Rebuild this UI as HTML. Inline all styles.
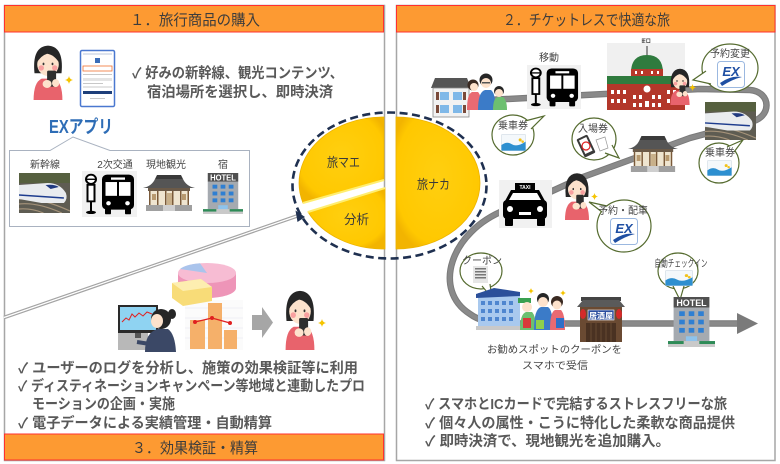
<!DOCTYPE html>
<html><head><meta charset="utf-8"><style>
html,body{margin:0;padding:0;background:#fff;width:780px;height:464px;overflow:hidden}
svg{display:block}
text{font-family:"Liberation Sans","Noto Sans CJK JP",sans-serif}
.b{font-weight:bold;fill:#595959;font-size:14.5px}
.h{fill:#3c3c3c;font-size:15px}
.s{fill:#454545;font-size:10px}
.p{fill:#3a3a3a;font-size:13px}
</style></head><body>
<svg width="780" height="464" viewBox="0 0 780 464" xmlns="http://www.w3.org/2000/svg">
<defs>
<symbol id="girl" viewBox="0 0 40 64" preserveAspectRatio="none">
 <path d="M5 34 Q2 4 20 3 Q38 4 35 34 Z" fill="#262626"/>
 <path d="M4 64 Q4 44 13 40 L27 40 Q36 44 36 64 Z" fill="#e8636c"/>
 <ellipse cx="20" cy="24" rx="12" ry="13" fill="#fde2cc"/>
 <path d="M7 23 Q7 7 20 7 Q33 7 33 23 Q27 13 19 12 Q12 14 7 23 Z" fill="#262626"/>
 <circle cx="12.5" cy="28" r="3" fill="#f8a0a0"/>
 <circle cx="27.5" cy="28" r="3" fill="#f8a0a0"/>
 <rect x="14" y="22" width="2" height="3" rx="1" fill="#333"/>
 <rect x="24" y="22" width="2" height="3" rx="1" fill="#333"/>
 <rect x="19" y="31" width="10" height="18" rx="1.5" fill="#2f2f2f"/>
 <ellipse cx="19" cy="46" rx="5" ry="4.5" fill="#fde2cc"/>
 <ellipse cx="28.5" cy="45" rx="4" ry="4.5" fill="#fde2cc"/>
</symbol>
<symbol id="spark" viewBox="-4 -4 8 8">
 <path d="M0 -4 Q0.6 -0.6 4 0 Q0.6 0.6 0 4 Q-0.6 0.6 -4 0 Q-0.6 -0.6 0 -4Z" fill="#f5c400"/>
</symbol>
<symbol id="bus" viewBox="0 0 55 50" preserveAspectRatio="none">
 <rect width="55" height="50" fill="#f1f1f1"/>
 <circle cx="9" cy="9" r="5" fill="#fff" stroke="#000" stroke-width="2"/>
 <line x1="4" y1="9" x2="14" y2="9" stroke="#000" stroke-width="1.5"/>
 <rect x="5.5" y="15" width="7" height="18" fill="#fff" stroke="#000" stroke-width="2"/>
 <rect x="8" y="33" width="2" height="11" fill="#000"/>
 <ellipse cx="9" cy="45" rx="5" ry="1.8" fill="#000"/>
 <rect x="20" y="4" width="32" height="38" rx="5" fill="#000"/>
 <rect x="29" y="7" width="14" height="2.5" fill="#fff"/>
 <rect x="23.5" y="12" width="11.5" height="15" fill="#fff"/>
 <rect x="37" y="12" width="11.5" height="15" fill="#fff"/>
 <circle cx="26.5" cy="35" r="2.3" fill="#fff"/>
 <circle cx="45.5" cy="35" r="2.3" fill="#fff"/>
 <rect x="23" y="41" width="6" height="6" rx="1" fill="#000"/>
 <rect x="43" y="41" width="6" height="6" rx="1" fill="#000"/>
</symbol>
<symbol id="temple" viewBox="0 0 52 36" preserveAspectRatio="none">
 <path d="M14 0 H38 L40 4 H12 Z" fill="#3a3a3a"/>
 <path d="M12 4 H40 Q43 11 52 13 H0 Q9 11 12 4 Z" fill="#555"/>
 <rect x="5" y="13" width="42" height="3" fill="#6b5a48"/>
 <rect x="6" y="16" width="40" height="14" fill="#efe5d0"/>
 <g fill="#7a5a3a"><rect x="6" y="16" width="1.5" height="14"/><rect x="14" y="16" width="1.5" height="14"/><rect x="22" y="16" width="1.5" height="14"/><rect x="29" y="16" width="1.5" height="14"/><rect x="37" y="16" width="1.5" height="14"/><rect x="44.5" y="16" width="1.5" height="14"/></g>
 <rect x="9" y="19" width="4" height="6" fill="#b89a70"/>
 <rect x="39" y="19" width="4" height="6" fill="#b89a70"/>
 <rect x="24" y="18" width="5" height="12" fill="#c8b08a"/>
 <rect x="3" y="30" width="46" height="6" fill="#a0a0a0"/>
 <rect x="20" y="30" width="12" height="6" fill="#cfcfcf"/>
</symbol>
<symbol id="hotel" viewBox="0 0 42 42" preserveAspectRatio="none">
 <rect x="5" y="0" width="32" height="9" fill="#505050"/>
 <text x="21" y="7.6" text-anchor="middle" font-size="8" font-weight="bold" fill="#fff">HOTEL</text>
 <rect x="5" y="9" width="32" height="29" fill="#a5aab0"/>
 <g fill="#2f7fd2">
  <rect x="10" y="12" width="5" height="4"/><rect x="18.5" y="12" width="5" height="4"/><rect x="27" y="12" width="5" height="4"/>
  <rect x="10" y="19" width="5" height="4"/><rect x="18.5" y="19" width="5" height="4"/><rect x="27" y="19" width="5" height="4"/>
  <rect x="10" y="26" width="5" height="4"/><rect x="18.5" y="26" width="5" height="4"/><rect x="27" y="26" width="5" height="4"/>
 </g>
 <rect x="16" y="33" width="10" height="5" fill="#8ec3ec"/>
 <rect x="0" y="37" width="42" height="5" fill="#c9c9c9"/>
 <rect x="0" y="37" width="14" height="2.5" fill="#2e8b57"/>
 <rect x="28" y="37" width="14" height="2.5" fill="#2e8b57"/>
</symbol>
<symbol id="train" viewBox="0 0 50 40" preserveAspectRatio="none">
 <rect width="50" height="40" fill="#5e5c52"/>
 <rect width="50" height="10" fill="#56603f"/>
 <path d="M0 26 Q20 24 50 38 M0 31 Q18 29 42 40 M0 36 Q12 35 24 40" stroke="#a5937a" stroke-width="1.2" fill="none"/>
 <path d="M0 12 L28 10 Q40 10 46 20 Q48 26 44 30 L22 30 L0 26 Z" fill="#e9ecef"/>
 <path d="M26 12 Q35 11 39 14 L31 16 Z" fill="#203a80"/>
 <path d="M0 22 L44 25" stroke="#1d3c8e" stroke-width="1.5"/>
</symbol>
<symbol id="ex" viewBox="0 0 28 27" preserveAspectRatio="none">
 <rect x="0.5" y="0.5" width="27" height="26" rx="3" fill="#fff" stroke="#9bb8e0"/>
 <text x="14" y="15" text-anchor="middle" font-size="13" font-weight="bold" font-style="italic" fill="#1f4fa3">EX</text>
 <path d="M3 22 Q14 14 25 16 Q16 18 5 25 Z" fill="#1f4fa3"/>
</symbol>
<symbol id="card" viewBox="0 0 30 20" preserveAspectRatio="none">
 <rect x="0.5" y="0.5" width="29" height="19" rx="1" fill="#f4f8fb" stroke="#c8d4de" stroke-width="0.6"/>
 <path d="M0.5 13 Q7 8 13 12 T29.5 9 V19.5 H0.5Z" fill="#2d8fd0"/>
 <circle cx="23" cy="7" r="1.8" fill="#f2c21a"/><circle cx="26" cy="9" r="1.5" fill="#f2c21a"/>
</symbol>
<radialGradient id="pie" cx="0.5" cy="0.45" r="0.6">
 <stop offset="0" stop-color="#FFCF10"/><stop offset="0.85" stop-color="#FFC800"/><stop offset="1" stop-color="#F2B400"/>
</radialGradient>
</defs>

<!-- panels -->
<rect x="4.5" y="5.5" width="380" height="455" fill="#fff" stroke="#a6a6a6" stroke-width="1.5"/>
<rect x="396.5" y="5.5" width="378.5" height="455" fill="#fff" stroke="#a6a6a6" stroke-width="1.5"/>
<rect x="4.5" y="5.5" width="379" height="26.5" fill="#FD9A32" stroke="#FF3030" stroke-width="1"/>
<rect x="396.5" y="5.5" width="378.5" height="26.5" fill="#FD9A32" stroke="#FF3030" stroke-width="1"/>
<rect x="4.5" y="434" width="379" height="26" fill="#FD9A32" stroke="#FF3030" stroke-width="1"/>
<text class="h" x="130" y="25" textLength="130" lengthAdjust="spacingAndGlyphs">１．旅行商品の購入</text>
<text class="h" x="503" y="25" textLength="167" lengthAdjust="spacingAndGlyphs">２．チケットレスで快適な旅</text>
<text class="h" x="132" y="453" textLength="126" lengthAdjust="spacingAndGlyphs">３．効果検証・精算</text>

<!-- diagonal double line -->
<line x1="4" y1="317.5" x2="297" y2="216" stroke="#a4a4a4" stroke-width="3.6"/>
<line x1="4" y1="317.5" x2="297" y2="216" stroke="#fff" stroke-width="1.2"/>

<!-- LEFT TOP -->
<use href="#girl" x="30" y="43" width="36" height="57"/>
<use href="#spark" x="65" y="76" width="8" height="8"/>
<g transform="translate(80,50)">
 <rect x="0.5" y="0.5" width="34" height="56" rx="1.5" fill="#fff" stroke="#4a78d0" stroke-width="1.5"/>
 <rect x="3" y="3" width="29" height="2" fill="#dde3ee"/>
 <rect x="15" y="8" width="5" height="5" fill="#3a6db8"/>
 <rect x="3" y="16" width="29" height="5" fill="none" stroke="#f07030" stroke-width="0.8"/>
 <rect x="3" y="24" width="29" height="1" fill="#c8c8c8"/>
 <rect x="3" y="28" width="29" height="3" fill="#e4e4e4"/>
 <rect x="3" y="33" width="20" height="1" fill="#c8c8c8"/>
 <rect x="3" y="36" width="29" height="2" fill="#e4e4e4"/>
 <rect x="3" y="41" width="29" height="3" fill="#1e3f7a"/>
 <rect x="10" y="48" width="15" height="1" fill="#c8c8c8"/>
</g>
<text class="b" x="132" y="78" textLength="211" lengthAdjust="spacingAndGlyphs">✓ 好みの新幹線、観光コンテンツ、</text>
<text class="b" x="147" y="97" textLength="186" lengthAdjust="spacingAndGlyphs">宿泊場所を選択し、即時決済</text>
<text x="49" y="133" font-size="18" font-weight="bold" fill="#2e6db6" textLength="64" lengthAdjust="spacingAndGlyphs">EXアプリ</text>
<path d="M9.5 150.5 H50 L73 137 L110 150.5 H249.5 V226.5 H9.5 Z" fill="#fff" stroke="#a9b2c0" stroke-width="1"/>
<text class="s" x="45" y="168" text-anchor="middle">新幹線</text>
<text class="s" x="115" y="168" text-anchor="middle">2次交通</text>
<text class="s" x="166" y="168" text-anchor="middle">現地観光</text>
<text class="s" x="223" y="168" text-anchor="middle">宿</text>
<use href="#train" x="19" y="173" width="51" height="40"/>
<use href="#bus" x="82" y="171" width="55" height="46"/>
<use href="#temple" x="143" y="175" width="52" height="36"/>
<use href="#hotel" x="203" y="173" width="40" height="41"/>

<!-- PIE -->
<path d="M384 180 L303 203 A84 66 0 0 1 384 117 Z" fill="url(#pie)" stroke="#EDB300" stroke-width="0.8"/>
<path d="M303 203 L384 180" stroke="#FFEE70" stroke-width="2"/>
<path d="M385 188 L308 212 A84 66 0 0 0 385 249 Z" fill="url(#pie)" stroke="#EDB300" stroke-width="0.8"/>
<path d="M308 212 L385 188" stroke="#FFEE70" stroke-width="2"/>
<path d="M396 117 A84 66 0 0 1 396 249 Z" fill="url(#pie)" stroke="#EDB300" stroke-width="0.8"/>
<ellipse cx="389.5" cy="185.5" rx="97" ry="73" fill="none" stroke="#1f3050" stroke-width="2.6" stroke-dasharray="8 4.5"/>
<polygon points="295.5,210.5 297.5,222 305,217" fill="#1f3050"/>
<text class="p" x="327" y="167" textLength="33" lengthAdjust="spacingAndGlyphs">旅マエ</text>
<text class="p" x="344" y="224" textLength="25" lengthAdjust="spacingAndGlyphs">分析</text>
<text class="p" x="417" y="189" textLength="33" lengthAdjust="spacingAndGlyphs">旅ナカ</text>

<!-- LEFT BOTTOM -->
<g>
 <rect x="118" y="333" width="30" height="17" fill="#b8b8b8"/>
 <rect x="118" y="305" width="40" height="28" fill="#2a2a2a"/>
 <rect x="120" y="307" width="36" height="23" fill="#8fd3f2"/>
 <path d="M122 322 L126 318 L129 320 L132 314 L135 317 L139 313 L143 316 L147 312 L152 314" stroke="#e02020" stroke-width="1" fill="none"/>
 <rect x="135" y="333" width="6" height="5" fill="#555"/>
 <path d="M145 352 Q145 332 158 329 L168 329 Q175 334 176 352 Z" fill="#3b4866"/>
 <ellipse cx="161" cy="319" rx="10" ry="10" fill="#262626"/>
 <ellipse cx="172" cy="314" rx="4" ry="5" fill="#262626"/>
 <ellipse cx="157" cy="321" rx="6" ry="7" fill="#fde2cc"/>
 <path d="M150 344 L137 342" stroke="#3b4866" stroke-width="4"/>
</g>
<g>
 <rect x="185" y="300" width="58" height="50" fill="#fbfbfb"/>
 <g stroke="#e4e4ee" stroke-width="0.6"><line x1="185" y1="308" x2="243" y2="308"/><line x1="185" y1="318" x2="243" y2="318"/><line x1="185" y1="328" x2="243" y2="328"/><line x1="185" y1="338" x2="243" y2="338"/></g>
 <rect x="190" y="320" width="15" height="29" fill="#f5b06a"/>
 <rect x="208" y="303" width="14" height="46" fill="#f5b06a"/>
 <rect x="224" y="330" width="13" height="19" fill="#f5b06a"/>
 <polyline points="195,322 212,318 230,323" stroke="#e02020" stroke-width="1.2" fill="none"/>
 <circle cx="195" cy="322" r="2" fill="#e02020"/><circle cx="212" cy="318" r="2" fill="#e02020"/><circle cx="230" cy="323" r="2" fill="#e02020"/>
 <!-- 3D pie -->
 <path d="M178 273 V288 A29 10 0 0 0 236 288 V273 Z" fill="#ee95b8"/>
 <ellipse cx="207" cy="273" rx="29" ry="10" fill="#f7bcd3"/>
 <path d="M207 273 L180 269 A29 10 0 0 1 200 263.3 Z" fill="#aac4ec"/>
 <path d="M172 283 L201 279 L212 287 L212 301 L183 306 L172 298 Z" fill="#f8dc78"/>
 <path d="M172 283 L201 279 L212 287 L183 291 Z" fill="#fdeeb0"/>
</g>
<polygon points="252,315 262,315 262,307 273,322.5 262,338 262,330 252,330" fill="#a6a6a6"/>
<use href="#girl" x="282" y="288" width="36" height="62"/>
<use href="#spark" x="318" y="319" width="8" height="8"/>
<text class="b" x="18" y="373" textLength="340" lengthAdjust="spacingAndGlyphs">✓ ユーザーのログを分析し、施策の効果検証等に利用</text>
<text class="b" x="18" y="391" textLength="347" lengthAdjust="spacingAndGlyphs">✓ ディスティネーションキャンペーン等地域と連動したプロ</text>
<text class="b" x="32" y="409" textLength="143" lengthAdjust="spacingAndGlyphs">モーションの企画・実施</text>
<text class="b" x="18" y="428" textLength="254" lengthAdjust="spacingAndGlyphs">✓ 電子データによる実績管理・自動精算</text>

<!-- RIGHT: road -->
<path d="M488 100 L700 89 L750 90 C772 92 772 118 750 122 L690 138 L583 177 L550 192 L505 210 C450 232 432 290 470 314 Q482 323 505 323.5 L740 323.5" fill="none" stroke="#7a7a7a" stroke-width="6.5" stroke-linejoin="round"/>
<path d="M488 100 L700 89 L750 90 C772 92 772 118 750 122 L690 138 L583 177 L550 192 L505 210 C450 232 432 290 470 314 Q482 323 505 323.5 L740 323.5" fill="none" stroke="#8a8a8a" stroke-width="4.5" stroke-linejoin="round"/>
<polygon points="737,313 758,323.5 737,334" fill="#7a7a7a"/>

<!-- house & family -->
<polygon points="435,78 467,78 471,88 431,88" fill="#555"/>
<rect x="433" y="88" width="36" height="29" fill="#f2f2f2" stroke="#8a8a8a" stroke-width="0.8"/>
<g fill="#7fb8e8"><rect x="440" y="92" width="9" height="8"/><rect x="453" y="92" width="9" height="8"/><rect x="440" y="105" width="9" height="8"/><rect x="453" y="105" width="9" height="8"/></g>
<g fill="#7a4a3a"><rect x="436" y="92" width="3" height="8"/><rect x="463" y="92" width="3" height="8"/><rect x="436" y="105" width="3" height="8"/><rect x="463" y="105" width="3" height="8"/></g>
<g>
 <path d="M467 110 Q467 94 472 92 L478 92 Q482 96 481 110 Z" fill="#e96a72"/>
 <circle cx="473" cy="85" r="5.5" fill="#3a2a22"/><circle cx="474" cy="87" r="4" fill="#fde2cc"/>
 <path d="M478 110 Q478 92 485 90 L491 90 Q496 94 495 110 Z" fill="#3b7bc8"/>
 <circle cx="486" cy="80" r="6.5" fill="#262626"/><circle cx="486" cy="83" r="5" fill="#fde2cc"/>
 <rect x="482" y="82" width="8" height="1.5" fill="#555"/>
 <path d="M493 110 Q493 98 498 97 L503 97 Q507 100 507 110 Z" fill="#6cc070"/>
 <circle cx="499" cy="91" r="5" fill="#262626"/><circle cx="499" cy="93" r="4" fill="#fde2cc"/>
</g>
<text class="s" x="549" y="61" text-anchor="middle">移動</text>
<use href="#bus" x="527" y="65" width="54" height="44"/>
<text class="s" x="646" y="47" text-anchor="middle">駅</text>
<g transform="translate(607,43)">
 <rect width="78" height="67" fill="#f0f0f0"/>
 <line x1="40" y1="3" x2="40" y2="14" stroke="#333" stroke-width="1"/>
 <path d="M24 30 Q24 12 40 12 Q56 12 56 30 Z" fill="#2f7b3e"/>
 <rect x="24" y="26" width="32" height="8" fill="#b8382a"/>
 <g fill="#fff"><rect x="28" y="28" width="2" height="3"/><rect x="34" y="28" width="2" height="3"/><rect x="44" y="28" width="2" height="3"/><rect x="50" y="28" width="2" height="3"/></g>
 <path d="M0 33 H78 V42 H0 Z" fill="#2f7b3e"/>
 <rect x="0" y="41" width="78" height="26" fill="#b3372a"/>
 <circle cx="40" cy="46" r="3.5" fill="#fff"/>
 <g fill="#fff">
  <rect x="4" y="47" width="3" height="4"/><rect x="10" y="47" width="3" height="4"/><rect x="16" y="47" width="3" height="4"/><rect x="26" y="52" width="3" height="4"/><rect x="32" y="52" width="3" height="4"/><rect x="45" y="52" width="3" height="4"/><rect x="51" y="52" width="3" height="4"/><rect x="60" y="47" width="3" height="4"/><rect x="66" y="47" width="3" height="4"/><rect x="72" y="47" width="3" height="4"/>
  <rect x="4" y="56" width="3" height="4"/><rect x="10" y="56" width="3" height="4"/><rect x="16" y="56" width="3" height="4"/><rect x="26" y="60" width="3" height="4"/><rect x="32" y="60" width="3" height="4"/><rect x="38" y="58" width="4" height="6"/><rect x="45" y="60" width="3" height="4"/><rect x="51" y="60" width="3" height="4"/><rect x="60" y="56" width="3" height="4"/><rect x="66" y="56" width="3" height="4"/>
 </g>
</g>
<use href="#girl" x="668" y="67" width="24" height="38"/>
<use href="#spark" x="689" y="84" width="7" height="7"/>

<!-- bubbles -->
<g fill="#fff" stroke="#556b2f" stroke-width="1.2">
 <ellipse cx="730" cy="68" rx="28" ry="24"/>
 <path d="M706 71 L693 80 L711 84"/>
 <ellipse cx="513" cy="135" rx="21" ry="20"/>
 <path d="M525 121 L544 116 L531 129"/>
 <ellipse cx="594" cy="139" rx="22" ry="21"/>
 <path d="M605 153 L619 158 L612 145"/>
 <ellipse cx="719" cy="163" rx="20" ry="20"/>
 <path d="M727 147 L743 140 L734 152"/>
 <ellipse cx="624" cy="226" rx="27" ry="26"/>
 <path d="M602 212 L589 202 L607 206"/>
 <ellipse cx="481" cy="271" rx="21" ry="18"/>
 <path d="M482 286 L492 298 L490 284"/>
 <ellipse cx="678" cy="271" rx="20" ry="18"/>
 <path d="M673 286 L680 300 L684 286"/>
</g>
<text class="s" x="730" y="57" text-anchor="middle" font-size="9.5">予約変更</text>
<use href="#ex" x="717" y="61" width="28" height="27"/>
<text class="s" x="513" y="129" text-anchor="middle" font-size="9.5">乗車券</text>
<use href="#card" x="501" y="134" width="25" height="17"/>
<text class="s" x="593" y="132" text-anchor="middle" font-size="9.5">入場券</text>
<g>
 <rect x="580" y="136" width="12" height="20" rx="1.5" fill="#3a3a3a" transform="rotate(-25 586 146)"/>
 <rect x="582" y="138" width="8" height="15" fill="#fff" transform="rotate(-25 586 146)"/>
 <circle cx="586" cy="146" r="4" fill="none" stroke="#e02020" stroke-width="1.2"/>
 <path d="M596 140 L605 137 L608 148 L600 151 Z" fill="#fff" stroke="#999" stroke-width="0.7"/>
</g>
<text class="s" x="720" y="156" text-anchor="middle" font-size="9.5">乗車券</text>
<use href="#card" x="707" y="160" width="25" height="16"/>
<text class="s" x="623" y="214" text-anchor="middle" font-size="9.5">予約・配車</text>
<use href="#ex" x="610" y="218" width="28" height="27"/>
<text class="s" x="482" y="264" text-anchor="middle" font-size="9.5">クーポン</text>
<g>
 <rect x="473" y="266" width="15" height="17" fill="#e6e6e6"/>
 <g fill="#777"><rect x="475" y="268" width="11" height="1.5"/><rect x="475" y="271" width="11" height="1.5"/><rect x="475" y="274" width="11" height="1.5"/><rect x="475" y="277" width="11" height="1.5"/></g>
</g>
<text class="s" x="681" y="267" text-anchor="middle" font-size="9" textLength="53" lengthAdjust="spacingAndGlyphs">自動チェックイン</text>
<use href="#card" x="665" y="270" width="28" height="16"/>

<use href="#train" x="705" y="102" width="51" height="38"/>
<use href="#temple" x="628" y="136" width="50" height="36"/>

<!-- taxi -->
<g>
 <rect x="499" y="180" width="53" height="48" fill="#f1f1f1"/>
 <rect x="515" y="183" width="20" height="7" fill="#000"/>
 <text x="525" y="188.8" text-anchor="middle" font-size="5" font-weight="bold" fill="#fff">TAXI</text>
 <path d="M511 190 H539 L545 201 H505 Z" fill="#000"/>
 <path d="M513 193 H537 L541 200 H509 Z" fill="#fff"/>
 <rect x="503" y="200" width="44" height="19" rx="4" fill="#000"/>
 <circle cx="510" cy="209" r="3" fill="#fff"/><circle cx="540" cy="209" r="3" fill="#fff"/>
 <rect x="519" y="212" width="12" height="3" fill="#fff"/>
 <rect x="505" y="218" width="8" height="8" rx="1" fill="#000"/><rect x="537" y="218" width="8" height="8" rx="1" fill="#000"/>
</g>
<use href="#girl" x="562" y="171" width="30" height="49"/>
<use href="#spark" x="591" y="193" width="7" height="7"/>

<!-- coupon building & people -->
<g>
 <rect x="478" y="293" width="42" height="36" fill="#a9c9ee"/>
 <path d="M476 294 L494 288 L520 292 L520 296 L476 298 Z" fill="#2b4f9a"/>
 <g fill="#4f86cf">
  <rect x="481" y="301" width="4" height="4"/><rect x="488" y="301" width="4" height="4"/><rect x="495" y="301" width="4" height="4"/><rect x="502" y="301" width="4" height="4"/><rect x="509" y="301" width="4" height="4"/>
  <rect x="481" y="309" width="4" height="4"/><rect x="488" y="309" width="4" height="4"/><rect x="495" y="309" width="4" height="4"/><rect x="502" y="309" width="4" height="4"/><rect x="509" y="309" width="4" height="4"/>
  <rect x="481" y="317" width="4" height="4"/><rect x="488" y="317" width="4" height="4"/><rect x="495" y="317" width="4" height="4"/><rect x="502" y="317" width="4" height="4"/><rect x="509" y="317" width="4" height="4"/>
 </g>
 <rect x="476" y="326" width="46" height="4" fill="#c9c9c9"/>
 <path d="M520 330 Q520 314 526 312 L532 312 Q536 316 536 330 Z" fill="#6cc070"/>
 <rect x="518" y="298" width="13" height="5" fill="#3aa050"/>
 <circle cx="527" cy="307" r="5" fill="#fde2cc"/>
 <path d="M534 330 Q534 309 541 307 L548 307 Q553 310 553 330 Z" fill="#3b7bc8"/>
 <circle cx="543" cy="299" r="6" fill="#262626"/><circle cx="543" cy="302" r="5" fill="#fde2cc"/>
 <path d="M550 330 Q550 312 555 310 L561 310 Q565 314 565 330 Z" fill="#e96a72"/>
 <circle cx="557" cy="302" r="6" fill="#3a2a22"/><circle cx="557" cy="305" r="4.5" fill="#fde2cc"/>
 <rect x="523" y="318" width="8" height="10" fill="#d83a3a"/>
 <rect x="536" y="320" width="8" height="9" fill="#8ed04c"/>
 <rect x="556" y="318" width="8" height="10" fill="#2f6fc8"/>
 <use href="#spark" x="528" y="288" width="6" height="6"/>
 <use href="#spark" x="560" y="290" width="6" height="6"/>
</g>
<g transform="translate(577,297)">
 <rect x="4" y="0" width="40" height="4" fill="#444"/>
 <path d="M0 10 L6 3 H42 L48 10 Z" fill="#5a5a5a"/>
 <rect x="3" y="10" width="42" height="35" fill="#6a4a32"/>
 <rect x="11" y="13" width="26" height="10" fill="#2a4d9e" stroke="#fff" stroke-width="0.6"/>
 <text x="24" y="21.5" text-anchor="middle" font-size="8" font-weight="bold" fill="#fff">居酒屋</text>
 <ellipse cx="6" cy="17" rx="3" ry="5" fill="#d42a2a"/>
 <ellipse cx="42" cy="17" rx="3" ry="5" fill="#d42a2a"/>
 <rect x="9" y="26" width="30" height="19" fill="#4a3222"/>
 <g stroke="#6e5038" stroke-width="0.8"><line x1="14" y1="26" x2="14" y2="45"/><line x1="19" y1="26" x2="19" y2="45"/><line x1="24" y1="26" x2="24" y2="45"/><line x1="29" y1="26" x2="29" y2="45"/><line x1="34" y1="26" x2="34" y2="45"/></g>
</g>
<use href="#hotel" x="668" y="297" width="47" height="50"/>

<text class="s" x="487" y="353" font-size="12" textLength="135" lengthAdjust="spacingAndGlyphs">お勧めスポットのクーポンを</text>
<text class="s" x="522" y="369" font-size="12" textLength="66" lengthAdjust="spacingAndGlyphs">スマホで受信</text>

<text class="b" x="425" y="409" textLength="302" lengthAdjust="spacingAndGlyphs">✓ スマホとICカードで完結するストレスフリーな旅</text>
<text class="b" x="425" y="428" textLength="310" lengthAdjust="spacingAndGlyphs">✓ 個々人の属性・こうに特化した柔軟な商品提供</text>
<text class="b" x="425" y="446" textLength="245" lengthAdjust="spacingAndGlyphs">✓ 即時決済で、現地観光を追加購入。</text>
</svg>
</body></html>
